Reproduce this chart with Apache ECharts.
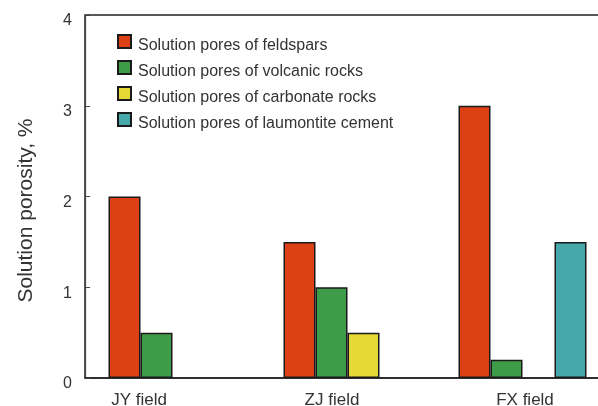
<!DOCTYPE html>
<html>
<head>
<meta charset="utf-8">
<script src="https://cdn.jsdelivr.net/npm/echarts@6/dist/echarts.min.js"></script>
<style>html,body{margin:0;padding:0;background:#fff}#c{width:598px;height:406px}</style>
</head>
<body>
<div id="c"></div>
<script>
const categories = ['JY field', 'ZJ field', 'FX field'];
const feldspars = [2, 1.5, 3];
const volcanic = [0.5, 1, 0.2];
const carbonate = [null, 0.5, null];
const laumontite = [null, null, 1.5];
const seriesNames = [
  'Solution pores of feldspars',
  'Solution pores of volcanic rocks',
  'Solution pores of carbonate rocks',
  'Solution pores of laumontite cement'
];
const colors = ['#DE4015', '#3E9C48', '#E5DA35', '#46A8AA'];
const seriesData = [feldspars, volcanic, carbonate, laumontite];

const chart = echarts.init(document.getElementById('c'), null, {renderer: 'canvas'});
const font = 'Liberation Sans, Arial, sans-serif';
chart.setOption({
  animation: false,
  backgroundColor: '#fff',
  textStyle: {fontFamily: font},
  grid: [
    {left: 85, top: 15, right: -12, bottom: 28, outerBoundsMode: 'none', containLabel: false,
      show: true, borderColor: '#222', borderWidth: 1.5, backgroundColor: 'transparent'},
    {left: 42.5, top: 15, width: 579, bottom: 28, outerBoundsMode: 'none', containLabel: false, show: false}
  ],
  legend: {
    orient: 'vertical', left: 112, top: 29, itemWidth: 13, itemHeight: 21, itemGap: 3,
    icon: 'path://M0,0h13v13h-13zM0,21',
    textStyle: {fontSize: 16, color: '#333', fontFamily: font, padding: [0, 0, 0, 2]},
    data: seriesNames
  },
  xAxis: [
    {
      type: 'category', data: categories, gridIndex: 0,
      axisLine: {lineStyle: {color: '#222', width: 1.5}},
      axisTick: {inside: true, length: 5, lineStyle: {color: '#444'}},
      axisLabel: {show: false}
    },
    {
      type: 'category', data: categories, gridIndex: 1,
      axisLine: {show: false}, axisTick: {show: false},
      axisLabel: {fontSize: 17, color: '#333', margin: 14}
    }
  ],
  yAxis: [
    {
      type: 'value', min: 0, max: 4, interval: 1, gridIndex: 0,
      name: 'Solution porosity, %', nameLocation: 'middle', nameGap: 48,
      nameTextStyle: {fontSize: 21, color: '#333', padding: [0, 28, 0, 0]},
      axisLine: {show: true, lineStyle: {color: '#444', width: 1.2}},
      axisTick: {show: true, inside: true, length: 5, lineStyle: {color: '#444'}},
      splitLine: {show: false},
      axisLabel: {fontSize: 16, color: '#333', margin: 13, verticalAlign: 'top', lineHeight: 12}
    },
    {
      type: 'value', min: 0, max: 4, gridIndex: 1, show: false
    }
  ],
  series: seriesNames.map((n, i) => ({
    name: n, type: 'bar', data: seriesData[i], xAxisIndex: 0, yAxisIndex: 0,
    barWidth: 32, barGap: '0%',
    itemStyle: {color: colors[i], borderColor: '#1a1a1a', borderWidth: 1.5}
  }))
});
</script>
</body>
</html>
